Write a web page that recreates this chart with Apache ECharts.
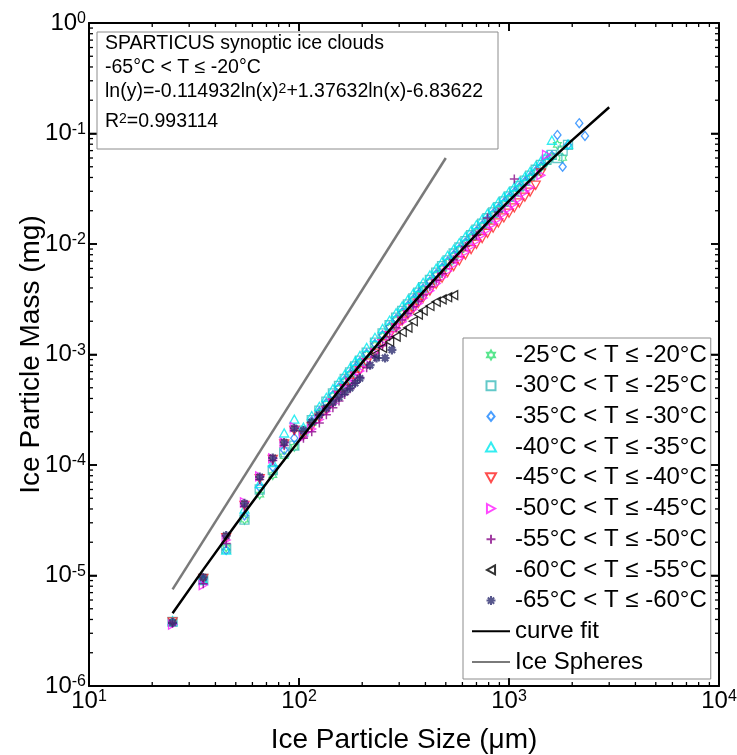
<!DOCTYPE html>
<html><head><meta charset="utf-8">
<script src="https://cdn.jsdelivr.net/npm/echarts@6/dist/echarts.min.js"></script>
<style>html,body{margin:0;padding:0;background:#fff}#c{width:737px;height:755px}</style>
</head><body><div id="c"></div><script>
// ---- data (sizes in micrometres, masses in mg) ----
const sizes = [25,35,45,55,65,75,85,95,
  105,115,125,135,145,155,165,175,185,195,
  210,230,250,270,290,310,330,350,370,390,
  420,450,480,510,545,580,620,660,700,745,790,840,890,945,1000,
  1060,1120,1190,1260,1340,1420,1510,1600,1700,1800,1910,2030,2160,2300];

const massM20 = [3.8e-6,9.0e-6,1.8e-5,3.2e-5,5.4e-5,8.1e-5,1.2e-4,1.46e-4,
  1.9e-4,2.4e-4,2.95e-4,3.55e-4,4.2e-4,4.9e-4,5.65e-4,6.5e-4,7.4e-4,8.3e-4,
  9.9e-4,1.21e-3,1.46e-3,1.74e-3,2.04e-3,2.34e-3,2.68e-3,3.05e-3,3.43e-3,3.84e-3,
  4.5e-3,5.2e-3,5.95e-3,6.75e-3,7.75e-3,8.8e-3,1.0e-2,1.13e-2,1.27e-2,1.44e-2,1.62e-2,1.82e-2,2.04e-2,2.29e-2,2.55e-2,
  2.85e-2,3.17e-2,3.55e-2,3.95e-2,4.4e-2,4.9e-2,5.5e-2,6.1e-2,7.9e-2,6.0e-2,null,null,null,null];

const massM25 = [3.8e-6,9.3e-6,1.75e-5,3.2e-5,6.0e-5,9.0e-5,1.3e-4,1.5e-4,
  2.05e-4,2.55e-4,3.1e-4,3.75e-4,4.45e-4,5.2e-4,6.0e-4,6.9e-4,7.8e-4,8.8e-4,
  1.04e-3,1.28e-3,1.55e-3,1.84e-3,2.16e-3,2.48e-3,2.84e-3,3.22e-3,3.63e-3,4.06e-3,
  4.74e-3,5.5e-3,6.3e-3,7.1e-3,8.2e-3,9.3e-3,1.06e-2,1.2e-2,1.35e-2,1.53e-2,1.71e-2,1.93e-2,2.16e-2,2.43e-2,2.7e-2,
  3.0e-2,3.35e-2,3.75e-2,4.15e-2,4.7e-2,5.2e-2,5.8e-2,6.4e-2,6.0e-2,7.0e-2,7.9e-2,null,null,null];

const massM30 = [3.8e-6,9.2e-6,1.7e-5,3.5e-5,6.3e-5,9.6e-5,1.37e-4,1.75e-4,
  2.0e-4,2.5e-4,3.05e-4,3.65e-4,4.3e-4,5.05e-4,5.85e-4,6.7e-4,7.6e-4,8.6e-4,
  1.02e-3,1.25e-3,1.5e-3,1.79e-3,2.1e-3,2.41e-3,2.76e-3,3.14e-3,3.53e-3,3.95e-3,
  4.6e-3,5.35e-3,6.1e-3,6.95e-3,7.95e-3,9.05e-3,1.03e-2,1.17e-2,1.31e-2,1.48e-2,1.67e-2,1.88e-2,2.1e-2,2.36e-2,2.63e-2,
  2.93e-2,3.26e-2,3.65e-2,4.05e-2,4.55e-2,5.05e-2,5.65e-2,6.3e-2,9.7e-2,5.0e-2,7.9e-2,null,0.124,0.095];

const massM35 = [3.9e-6,9.0e-6,1.7e-5,4.0e-5,6.8e-5,1.05e-4,1.95e-4,2.6e-4,
  2.2e-4,2.8e-4,3.4e-4,4.1e-4,4.9e-4,5.7e-4,6.6e-4,7.6e-4,8.7e-4,9.8e-4,
  1.16e-3,1.43e-3,1.72e-3,2.05e-3,2.39e-3,2.75e-3,3.15e-3,3.6e-3,4.05e-3,4.5e-3,
  5.25e-3,6.05e-3,6.95e-3,7.9e-3,9.0e-3,1.03e-2,1.17e-2,1.33e-2,1.5e-2,1.69e-2,1.9e-2,2.14e-2,2.4e-2,2.68e-2,2.98e-2,
  3.3e-2,3.66e-2,4.08e-2,4.55e-2,5.1e-2,5.65e-2,6.35e-2,8.7e-2,null,null,8.0e-2,null,null,null];

const massM40 = [3.8e-6,9.4e-6,2.2e-5,4.3e-5,7.5e-5,1.12e-4,1.55e-4,2.05e-4,
  1.85e-4,2.22e-4,2.65e-4,3.12e-4,3.65e-4,4.25e-4,4.9e-4,5.6e-4,6.35e-4,7.15e-4,
  8.4e-4,1.03e-3,1.25e-3,1.48e-3,1.74e-3,2.0e-3,2.28e-3,2.58e-3,2.9e-3,3.23e-3,
  3.75e-3,4.32e-3,4.9e-3,5.5e-3,6.25e-3,7.05e-3,7.95e-3,8.9e-3,9.95e-3,1.12e-2,1.25e-2,1.39e-2,1.55e-2,1.72e-2,1.9e-2,
  2.12e-2,2.35e-2,2.65e-2,2.95e-2,3.4e-2,4.4e-2,null,null,null,null,null,null,null,null];

const massM45 = [3.6e-6,8.2e-6,2.1e-5,4.6e-5,7.9e-5,1.15e-4,1.6e-4,2.2e-4,
  1.8e-4,2.12e-4,2.58e-4,3.06e-4,3.6e-4,4.2e-4,4.85e-4,5.55e-4,6.3e-4,7.1e-4,
  8.35e-4,1.03e-3,1.24e-3,1.47e-3,1.72e-3,1.98e-3,2.27e-3,2.57e-3,2.9e-3,3.24e-3,
  3.78e-3,4.38e-3,5.0e-3,5.7e-3,6.55e-3,7.45e-3,8.45e-3,9.55e-3,1.07e-2,1.21e-2,1.35e-2,1.52e-2,1.69e-2,1.9e-2,2.1e-2,
  2.33e-2,2.58e-2,2.95e-2,3.25e-2,null,4.2e-2,6.4e-2,null,null,null,null,null,null,null];

const massM50 = [3.7e-6,8.4e-6,1.95e-5,4.2e-5,7.4e-5,1.1e-4,1.5e-4,2.05e-4,
  1.75e-4,2.0e-4,2.4e-4,2.85e-4,3.3e-4,3.8e-4,4.35e-4,4.9e-4,5.5e-4,6.2e-4,
  7.6e-4,9.5e-4,1.2e-3,1.45e-3,1.75e-3,2.05e-3,2.35e-3,2.7e-3,3.05e-3,3.45e-3,
  4.1e-3,4.7e-3,5.4e-3,null,7.2e-3,null,9.5e-3,null,1.2e-2,null,1.72e-2,null,1.95e-2,null,null,
  3.87e-2,null,null,null,null,null,null,null,null,null,null,null,null,null];

const sizesM55 = [230,250,270,290,310,330,350,370,390,420,450,480,510,545];
const massM55 = [1.0e-3,1.15e-3,1.3e-3,1.45e-3,1.6e-3,1.75e-3,2.0e-3,2.3e-3,2.5e-3,2.75e-3,3.0e-3,3.15e-3,3.3e-3,3.45e-3];

const sizesM60 = [25,35,45,55,65,75,85,95,105,115,125,135,145,155,165,175,185,195,218,234,257,277];
const massM60 = [3.75e-6,9.6e-6,2.3e-5,4.5e-5,7.8e-5,1.16e-4,1.6e-4,2.15e-4,2.05e-4,2.44e-4,2.84e-4,3.26e-4,3.68e-4,4.11e-4,4.55e-4,4.97e-4,5.52e-4,6.08e-4,8.0e-4,9.3e-4,9.3e-4,1.1e-3];

const fitSizes = [25,35,50,75,100,150,200,300,400,600,800,1000,1500,2000,3000];
const fitMass = [4.55e-6,1.13e-5,2.9e-5,8.16e-5,1.66e-4,4.37e-4,8.49e-4,2.1e-3,3.89e-3,9.0e-3,1.6e-2,2.46e-2,5.22e-2,8.7e-2,0.173];

const sphereSizes = [25,500];
const sphereMass = [7.5e-6,0.06];

const seriesNames = ['-25°C < T ≤ -20°C','-30°C < T ≤ -25°C','-35°C < T ≤ -30°C','-40°C < T ≤ -35°C',
  '-45°C < T ≤ -40°C','-50°C < T ≤ -45°C','-55°C < T ≤ -50°C','-60°C < T ≤ -55°C','-65°C < T ≤ -60°C',
  'curve fit','Ice Spheres'];

// tick values
const xMajor = [10,100,1000,10000];
const xMinor = [20,30,40,50,60,70,80,90,200,300,400,500,600,700,800,900,2000,3000,4000,5000,6000,7000,8000,9000];
const yMajor = [1e-6,1e-5,1e-4,1e-3,1e-2,1e-1,1];
const yMinor = [];
[1e-6,1e-5,1e-4,1e-3,1e-2,1e-1].forEach(d => { for (let k = 2; k <= 9; k++) yMinor.push(d * k); });

// ---- styles ----
const F = '"Liberation Sans", Arial, Helvetica, sans-serif';
const SYM = {
  hexa: 'path://M5,0L6.4,2.5L9.3,2.5L7.9,5L9.3,7.5L6.4,7.5L5,10L3.6,7.5L0.7,7.5L2.1,5L0.7,2.5L3.6,2.5Z',
  square: 'path://M0,0L10,0L10,10L0,10Z',
  diamond: 'path://M4,0L8,5L4,10L0,5Z',
  up: 'path://M5,0L10,9L0,9Z',
  down: 'path://M0,0L10,0L5,9Z',
  right: 'path://M0,0L9,5L0,10Z',
  left: 'path://M9,0L0,5L9,10Z',
  plus: 'path://M5,0L5,10M0,5L10,5',
  star: 'path://M5,0L5,10M0,5L10,5M1.5,1.5L8.5,8.5M8.5,1.5L1.5,8.5'
};

function pairs(xs, ys) {
  const out = [];
  xs.forEach((x, i) => { if (ys[i] != null) out.push([x, ys[i]]); });
  return out;
}

const scatterDefs = [
  {mass: massM20, xs: sizes, color: '#2ee070', symbol: SYM.hexa, bw: 1.2},
  {mass: massM25, xs: sizes, color: '#3cbcbc', symbol: SYM.square, bw: 1.3},
  {mass: massM30, xs: sizes, color: '#1c86ff', symbol: SYM.diamond, bw: 1.3},
  {mass: massM35, xs: sizes, color: '#00e8ee', symbol: SYM.up, bw: 1.3},
  {mass: massM40, xs: sizes, color: '#ff2020', symbol: SYM.down, bw: 1.3},
  {mass: massM45, xs: sizes, color: '#ff1cff', symbol: SYM.right, bw: 1.3},
  {mass: massM50, xs: sizes, color: '#8a0a8a', symbol: SYM.plus, bw: 1.5},
  {mass: massM55, xs: sizesM55, color: '#000000', symbol: SYM.left, bw: 1.3},
  {mass: massM60, xs: sizesM60, color: '#2e2e70', symbol: SYM.star, bw: 2.2}
];

const series = scatterDefs.map((d, i) => ({
  type: 'scatter', name: seriesNames[i], xAxisIndex: 0, yAxisIndex: 0,
  data: pairs(d.xs, d.mass), symbol: d.symbol, symbolSize: 9, symbolKeepAspect: true,
  itemStyle: {color: 'rgba(0,0,0,0)', borderColor: d.color, borderWidth: d.bw},
  emphasis: {disabled: true}, silent: true, z: 2
}));
series.push({
  type: 'line', name: seriesNames[9], data: pairs(fitSizes, fitMass), smooth: false,
  symbol: 'none', lineStyle: {color: '#000', width: 2.5}, itemStyle: {color: 'rgba(0,0,0,0)', borderWidth: 0}, z: 5, silent: true
});
series.push({
  type: 'line', name: seriesNames[10], data: pairs(sphereSizes, sphereMass),
  symbol: 'none', lineStyle: {color: '#7a7a7a', width: 2.5}, itemStyle: {color: 'rgba(0,0,0,0)', borderWidth: 0}, z: 5, silent: true
});

// tick marks on all four sides, placed through the axes' own scales
function xTickSeries(values, len, w) {
  return {
    type: 'custom', name: 'xt' + len, silent: true, z: 6,
    data: values.map(v => [v, 1e-3]),
    renderItem: function (params, api) {
      const v = api.value(0);
      const b = api.coord([v, 1e-6]);
      const t = api.coord([v, 1]);
      return {type: 'group', children: [
        {type: 'rect', shape: {x: b[0] - w / 2, y: b[1] - len, width: w, height: len}, style: {fill: '#000'}},
        {type: 'rect', shape: {x: t[0] - w / 2, y: t[1], width: w, height: len}, style: {fill: '#000'}}
      ]};
    }
  };
}
function yTickSeries(values, len, w) {
  return {
    type: 'custom', name: 'yt' + len, silent: true, z: 6,
    data: values.map(v => [100, v]),
    renderItem: function (params, api) {
      const v = api.value(1);
      const l = api.coord([10, v]);
      const r = api.coord([10000, v]);
      return {type: 'group', children: [
        {type: 'rect', shape: {x: l[0], y: l[1] - w / 2, width: len, height: w}, style: {fill: '#000'}},
        {type: 'rect', shape: {x: r[0] - len, y: r[1] - w / 2, width: len, height: w}, style: {fill: '#000'}}
      ]};
    }
  };
}
series.push(xTickSeries(xMajor, 8, 1.6));
series.push(xTickSeries(xMinor, 4, 1.3));
series.push(yTickSeries(yMajor, 8, 1.6));
series.push(yTickSeries(yMinor, 4, 1.3));

const labelRich = {
  b: {fontSize: 24, fontFamily: F, color: '#000', lineHeight: 24, padding: [8, 0, 8, 0]},
  s: {fontSize: 16, fontFamily: F, color: '#000', lineHeight: 16, verticalAlign: 'top'}
};
const expFmt = v => '{b|10}{s|' + Math.round(Math.log10(v)) + '}';

function mainAxis(min, max, pos, extra) {
  return Object.assign({type: 'log', logBase: 10, min: min, max: max, position: pos, gridIndex: 0,
    splitLine: {show: false}, minorTick: {show: false}, minorSplitLine: {show: false},
    axisLine: {show: true, onZero: false, lineStyle: {color: '#000', width: 2}},
    axisTick: {show: true, inside: true, length: 8, lineStyle: {color: '#000', width: 1.6}},
    axisLabel: {show: false}
  }, extra || {});
}

const supRich = {s: {fontSize: 14, fontFamily: F, fill: '#000', verticalAlign: 'top', lineHeight: 14}};
const boxGraphics = [
  {type: 'rect', shape: {x: 97, y: 32, width: 401, height: 117}, style: {fill: '#fff', stroke: '#8c8c8c', lineWidth: 1}, z: 10},
  {type: 'text', x: 105, y: 44, z: 11, style: {text: 'SPARTICUS synoptic ice clouds', fontSize: 19.5, fontFamily: F, fill: '#000', verticalAlign: 'middle'}},
  {type: 'text', x: 105, y: 68, z: 11, style: {text: '-65°C < T ≤ -20°C', fontSize: 19.5, fontFamily: F, fill: '#000', verticalAlign: 'middle'}},
  {type: 'text', x: 105, y: 92, z: 11, style: {text: 'ln(y)=-0.114932ln(x){s|2}+1.37632ln(x)-6.83622', fontSize: 19.5, fontFamily: F, fill: '#000', verticalAlign: 'middle', rich: supRich}},
  {type: 'text', x: 105, y: 122, z: 11, style: {text: 'R{s|2}=0.993114', fontSize: 19.5, fontFamily: F, fill: '#000', verticalAlign: 'middle', rich: supRich}}
];

const option = {
  animation: false,
  backgroundColor: '#fff',
  textStyle: {fontFamily: F},
  grid: {left: 89, top: 23, width: 630, height: 663, containLabel: false, outerBoundsMode: 'none'},
  xAxis: [
    mainAxis(10, 10000, 'bottom', {
      axisLabel: {show: true, formatter: expFmt, rich: labelRich, margin: 3},
      name: 'Ice Particle Size (μm)', nameLocation: 'middle', nameGap: 39,
      nameTextStyle: {fontSize: 28, fontFamily: F, color: '#000'}
    }),
    mainAxis(10, 10000, 'top')
  ],
  yAxis: [
    mainAxis(1e-6, 1, 'left', {
      axisLabel: {show: true, formatter: expFmt, rich: labelRich, margin: 3},
      name: 'Ice Particle Mass (mg)', nameLocation: 'middle', nameGap: 44, nameMoveOverlap: false,
      nameTextStyle: {fontSize: 28, fontFamily: F, color: '#000'}
    }),
    mainAxis(1e-6, 1, 'right')
  ],
  legend: {
    orient: 'vertical', left: 463, top: 338, padding: [5, 4, 5, 8],
    itemWidth: 38, itemHeight: 9, itemGap: 6.7, selectedMode: false, symbolKeepAspect: true,
    backgroundColor: '#fff', borderColor: '#8c8c8c', borderWidth: 1,
    textStyle: {fontSize: 24, fontFamily: F, color: '#000', lineHeight: 24},
    data: seriesNames
  },
  graphic: boxGraphics,
  series: series
};

const chart = echarts.init(document.getElementById('c'), null, {renderer: 'canvas'});
chart.setOption(option);
</script></body></html>
